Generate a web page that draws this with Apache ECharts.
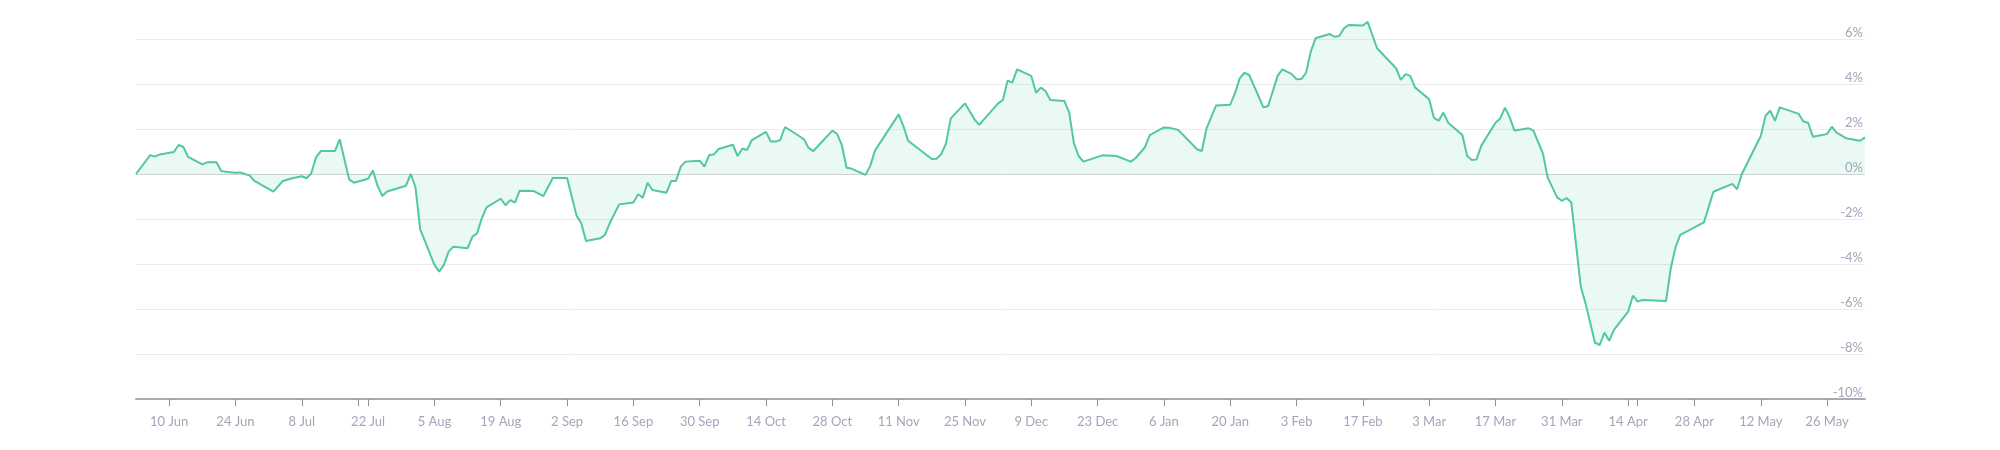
<!DOCTYPE html>
<html>
<head>
<meta charset="utf-8">
<script src="https://cdn.jsdelivr.net/npm/echarts@6/dist/echarts.min.js"></script>
<style>
html,body{margin:0;padding:0;background:#fff;}
#chart{width:2000px;height:450px;}
</style>
</head>
<body>
<div id="chart"></div>
<script>
// ---- data ----
var startDate = '2024-06-03';
var endDate = '2025-06-03';
var firstLabelDate = '2024-06-10';
var labelStepDays = 14;
var extraTickDates = ['2024-07-20', '2025-04-16'];
var yTicks = [-10, -8, -6, -4, -2, 0, 2, 4, 6];
var monthNames = ['Jan','Feb','Mar','Apr','May','Jun','Jul','Aug','Sep','Oct','Nov','Dec'];

var dates = [
'2024-06-03','2024-06-06','2024-06-07','2024-06-08','2024-06-11','2024-06-12','2024-06-13','2024-06-14',
'2024-06-17','2024-06-18','2024-06-20','2024-06-21','2024-06-22','2024-06-24','2024-06-25','2024-06-27',
'2024-06-28','2024-07-02','2024-07-04','2024-07-06','2024-07-08','2024-07-09','2024-07-10','2024-07-11',
'2024-07-12','2024-07-15','2024-07-16','2024-07-18','2024-07-19','2024-07-22','2024-07-23','2024-07-24',
'2024-07-25','2024-07-26','2024-07-30','2024-07-31','2024-08-01','2024-08-02','2024-08-05','2024-08-06',
'2024-08-07','2024-08-08','2024-08-09','2024-08-12','2024-08-13','2024-08-14','2024-08-15','2024-08-16',
'2024-08-19','2024-08-20','2024-08-21','2024-08-22','2024-08-23','2024-08-26','2024-08-28','2024-08-30',
'2024-09-02','2024-09-04','2024-09-05','2024-09-06','2024-09-09','2024-09-10','2024-09-11','2024-09-13',
'2024-09-16','2024-09-17','2024-09-18','2024-09-19','2024-09-20','2024-09-23','2024-09-24','2024-09-25',
'2024-09-26','2024-09-27','2024-09-30','2024-10-01','2024-10-02','2024-10-03','2024-10-04','2024-10-07',
'2024-10-08','2024-10-09','2024-10-10','2024-10-11','2024-10-14','2024-10-15','2024-10-16','2024-10-17',
'2024-10-18','2024-10-21','2024-10-22','2024-10-23','2024-10-24','2024-10-28','2024-10-29','2024-10-30',
'2024-10-31','2024-11-01','2024-11-04','2024-11-05','2024-11-06','2024-11-07','2024-11-11','2024-11-12',
'2024-11-13','2024-11-18','2024-11-19','2024-11-20','2024-11-21','2024-11-22','2024-11-25','2024-11-27',
'2024-11-28','2024-12-02','2024-12-03','2024-12-04','2024-12-05','2024-12-06','2024-12-09','2024-12-10',
'2024-12-11','2024-12-12','2024-12-13','2024-12-16','2024-12-17','2024-12-18','2024-12-19','2024-12-20',
'2024-12-24','2024-12-27','2024-12-30','2024-12-31','2025-01-02','2025-01-03','2025-01-06','2025-01-07',
'2025-01-09','2025-01-13','2025-01-14','2025-01-15','2025-01-17','2025-01-20','2025-01-21','2025-01-22',
'2025-01-23','2025-01-24','2025-01-27','2025-01-28','2025-01-30','2025-01-31','2025-02-02','2025-02-03',
'2025-02-04','2025-02-05','2025-02-06','2025-02-07','2025-02-10','2025-02-11','2025-02-12','2025-02-13',
'2025-02-14','2025-02-17','2025-02-18','2025-02-20','2025-02-24','2025-02-25','2025-02-26','2025-02-27',
'2025-02-28','2025-03-03','2025-03-04','2025-03-05','2025-03-06','2025-03-07','2025-03-10','2025-03-11',
'2025-03-12','2025-03-13','2025-03-14','2025-03-17','2025-03-18','2025-03-19','2025-03-20','2025-03-21',
'2025-03-24','2025-03-25','2025-03-27','2025-03-28','2025-03-30','2025-03-31','2025-04-01','2025-04-02',
'2025-04-04','2025-04-05','2025-04-07','2025-04-08','2025-04-09','2025-04-10','2025-04-11','2025-04-14',
'2025-04-15','2025-04-16','2025-04-17','2025-04-22','2025-04-23','2025-04-24','2025-04-25','2025-04-28',
'2025-04-30','2025-05-02','2025-05-06','2025-05-07','2025-05-08','2025-05-12','2025-05-13','2025-05-14',
'2025-05-15','2025-05-16','2025-05-20','2025-05-21','2025-05-22','2025-05-23','2025-05-26','2025-05-27',
'2025-05-28','2025-05-30','2025-06-02','2025-06-03'
];

var values = [
0,0.84,0.77,0.87,0.98,1.29,1.2,0.76,
0.43,0.52,0.52,0.13,0.1,0.06,0.07,-0.07,
-0.31,-0.78,-0.31,-0.19,-0.1,-0.19,0.03,0.74,
1.02,1.02,1.54,-0.24,-0.39,-0.21,0.15,-0.53,
-0.98,-0.78,-0.52,0,-0.59,-2.46,-4.04,-4.34,
-4.04,-3.45,-3.23,-3.3,-2.79,-2.64,-1.97,-1.48,
-1.1,-1.39,-1.16,-1.27,-0.74,-0.76,-0.98,-0.18,
-0.18,-1.85,-2.19,-2.98,-2.86,-2.71,-2.19,-1.35,
-1.27,-0.9,-1.05,-0.39,-0.71,-0.83,-0.31,-0.31,
0.33,0.55,0.59,0.33,0.84,0.87,1.11,1.3,
0.8,1.13,1.07,1.51,1.87,1.44,1.44,1.51,
2.09,1.69,1.54,1.16,1.02,1.93,1.78,1.29,
0.28,0.24,-0.04,0.36,1.04,1.36,2.65,2.13,
1.48,0.67,0.68,0.89,1.36,2.47,3.14,2.43,
2.18,3.14,3.29,4.15,4.06,4.65,4.36,3.61,
3.84,3.69,3.29,3.24,2.73,1.36,0.8,0.55,
0.83,0.8,0.55,0.7,1.19,1.73,2.07,2.06,
1.96,1.1,1.02,2.03,3.04,3.08,3.59,4.25,
4.5,4.4,2.96,3.02,4.36,4.65,4.44,4.21,
4.22,4.5,5.44,6.03,6.22,6.1,6.13,6.47,
6.62,6.6,6.76,5.59,4.7,4.18,4.44,4.36,
3.85,3.32,2.49,2.37,2.73,2.28,1.73,0.81,
0.62,0.65,1.26,2.28,2.47,2.95,2.52,1.93,
2.03,1.93,0.92,-0.15,-1.04,-1.19,-1.07,-1.27,
-5.01,-5.75,-7.5,-7.6,-7.05,-7.41,-6.93,-6.12,
-5.41,-5.67,-5.6,-5.64,-4.19,-3.26,-2.71,-2.37,
-2.15,-0.79,-0.44,-0.68,0,1.69,2.59,2.81,
2.36,2.96,2.67,2.33,2.28,1.66,1.78,2.1,
1.84,1.59,1.48,1.63
];

// ---- build daily category axis ----
function toUTC(s){var p=s.split('-');return Date.UTC(+p[0],+p[1]-1,+p[2]);}
function fmt(t){var d=new Date(t);var m=d.getUTCMonth()+1,dd=d.getUTCDate();
  return d.getUTCFullYear()+'-'+(m<10?'0':'')+m+'-'+(dd<10?'0':'')+dd;}
var DAY=86400000;
var days=[];
for(var t=toUTC(startDate);t<=toUTC(endDate);t+=DAY){days.push(fmt(t));}
var firstIdx=Math.round((toUTC(firstLabelDate)-toUTC(startDate))/DAY);
var extraIdx=extraTickDates.map(function(s){return Math.round((toUTC(s)-toUTC(startDate))/DAY);});
function isLabelIdx(i){return i>=firstIdx && (i-firstIdx)%labelStepDays===0;}

var seriesData=dates.map(function(d,i){return [d, values[i]];});

var gridColors = yTicks.map(function(v){return v===0?'#cfd0d6':'#ececee';});

var chart=echarts.init(document.getElementById('chart'),null,{renderer:'canvas'});
chart.setOption({
  animation:false,
  backgroundColor:'#ffffff',
  grid:{left:136,right:135,top:16.5,bottom:51,containLabel:false},
  xAxis:{
    type:'category',
    data:days,
    boundaryGap:false,
    axisLine:{show:true,onZero:false,lineStyle:{color:'#a9aab0',width:2}},
    axisTick:{show:true,length:7,lineStyle:{color:'#8e9096',width:1},
      interval:function(i){return isLabelIdx(i)||extraIdx.indexOf(i)>=0;}},
    axisLabel:{
      interval:function(i){return isLabelIdx(i);},
      margin:16,
      color:'#a2a6b8',
      fontFamily:'Lato',
      fontSize:13,
      formatter:function(v){var p=v.split('-');return (+p[2])+' '+monthNames[+p[1]-1];}
    },
    splitLine:{show:false}
  },
  yAxis:{
    type:'value',
    position:'right',
    min:-10,max:7,interval:2,
    axisLine:{show:false},
    axisTick:{show:false},
    axisLabel:{
      inside:true,
      margin:2,
      verticalAlign:'bottom',
      showMaxLabel:false,
      color:'#a2a6b8',
      fontFamily:'Lato',
      fontSize:13,
      formatter:function(v){return v+'%';}
    },
    splitLine:{show:true,showMaxLine:false,lineStyle:{color:gridColors,width:1}}
  },
  series:[{
    type:'line',
    data:seriesData,
    symbol:'none',
    lineStyle:{color:'#52c7a1',width:2},
    areaStyle:{color:'rgba(82,199,161,0.16)',origin:0},
    z:3
  }]
});
</script>
</body>
</html>
